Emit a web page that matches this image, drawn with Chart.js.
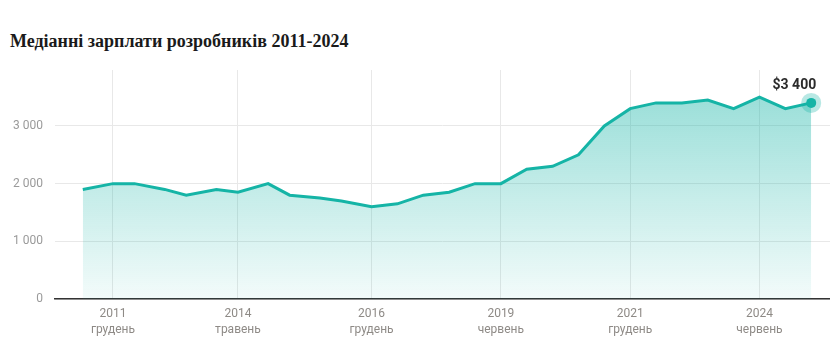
<!DOCTYPE html>
<html lang="uk">
<head>
<meta charset="utf-8">
<script src="https://cdn.jsdelivr.net/npm/chart.js@4/dist/chart.umd.min.js"></script>
<style>
  html, body { margin: 0; padding: 0; background: #fff; }
  #wrap { position: relative; width: 830px; height: 351px; }
  #title {
    position: absolute; left: 10px; top: 31px;
    font-family: "Liberation Serif", serif; font-weight: bold; font-size: 18px;
    color: #1a1a1a; white-space: nowrap;
  }
  canvas { position: absolute; left: 0; top: 0; }
</style>
</head>
<body>
<div id="wrap">
  <div id="title">Медіанні зарплати розробників 2011-2024</div>
  <canvas id="salaryChart" width="830" height="351"></canvas>
</div>
<script>
// survey dates (YYYY-MM) and median salary, USD
const surveyDates = [
  "2011-05", "2011-12", "2012-05", "2012-12", "2013-05", "2013-12",
  "2014-05", "2014-12", "2015-05", "2015-12", "2016-05", "2016-12",
  "2017-06", "2017-12", "2018-06", "2018-12", "2019-06", "2019-12",
  "2020-06", "2020-12", "2021-06", "2021-12", "2022-06", "2022-12",
  "2023-06", "2023-12", "2024-06", "2024-12", "2025-06"
];
const medianSalary = [
  1900, 2000, 2000, 1900, 1800, 1900,
  1850, 2000, 1800, 1750, 1700, 1600,
  1650, 1800, 1850, 2000, 2000, 2250,
  2300, 2500, 3000, 3300, 3400, 3400,
  3450, 3300, 3500, 3300, 3400
];

const xTickDates = ["2011-12", "2014-05", "2016-12", "2019-06", "2021-12", "2024-06"];
const xTickYears = ["2011", "2014", "2016", "2019", "2021", "2024"];
const xTickMonths = ["грудень", "травень", "грудень", "червень", "грудень", "червень"];
const yTickValues = [0, 1000, 2000, 3000];

const TEAL = "21, 180, 166";

function toYear(str) {
  const [y, m] = str.split("-").map(Number);
  return y + (m - 1) / 12;
}

function formatThousands(v) {
  return String(v).replace(/\B(?=(\d{3})+(?!\d))/g, " ");
}

const points = surveyDates.map((d, i) => ({ x: toYear(d), y: medianSalary[i] }));
const xTickValues = xTickDates.map(toYear);
const lastIndex = points.length - 1;

const lastPointLabel = {
  id: "lastPointLabel",
  afterDatasetsDraw(chart) {
    const meta = chart.getDatasetMeta(0);
    const pt = meta.data[lastIndex];
    if (!pt) return;
    const ctx = chart.ctx;
    ctx.save();
    ctx.beginPath();
    ctx.arc(pt.x, pt.y, 10, 0, Math.PI * 2);
    ctx.fillStyle = `rgba(${TEAL}, 0.3)`;
    ctx.fill();
    ctx.beginPath();
    ctx.arc(pt.x, pt.y, 5, 0, Math.PI * 2);
    ctx.fillStyle = `rgb(${TEAL})`;
    ctx.fill();
    ctx.font = "bold 14px Roboto";
    ctx.fillStyle = "#2b2b2b";
    ctx.textAlign = "right";
    ctx.textBaseline = "alphabetic";
    ctx.fillText("$" + formatThousands(medianSalary[lastIndex]), pt.x + 5, pt.y - 14);
    ctx.restore();
  }
};

new Chart(document.getElementById("salaryChart"), {
  type: "line",
  data: {
    datasets: [
      {
        data: points,
        borderColor: `rgb(${TEAL})`,
        borderWidth: 3,
        tension: 0,
        pointRadius: 0,
        fill: "origin",
        backgroundColor: (context) => {
          const area = context.chart.chartArea;
          if (!area) return `rgba(${TEAL}, 0.3)`;
          const g = context.chart.ctx.createLinearGradient(0, area.top, 0, area.bottom);
          g.addColorStop(0, `rgba(${TEAL}, 0.48)`);
          g.addColorStop(1, `rgba(${TEAL}, 0.05)`);
          return g;
        }
      }
    ]
  },
  options: {
    responsive: false,
    animation: false,
    layout: { padding: { top: 70, right: 0, left: 0, bottom: 0 } },
    plugins: {
      legend: { display: false },
      tooltip: { enabled: false }
    },
    scales: {
      x: {
        type: "linear",
        min: 2010.796,
        max: 2025.78,
        afterBuildTicks: (scale) => {
          scale.ticks = xTickValues.map((v) => ({ value: v }));
        },
        afterFit: (scale) => { scale.height = 52; },
        grid: { color: "#e8e8e8", drawTicks: false },
        border: { display: true, color: "#333", width: 1.5 },
        ticks: {
          autoSkip: false,
          maxRotation: 0,
          padding: 7,
          color: "#8e8a86",
          font: { family: "Roboto", size: 12, lineHeight: 1.35 },
          callback: (value, index) => [xTickYears[index], xTickMonths[index]]
        }
      },
      y: {
        min: 0,
        max: 3970,
        afterBuildTicks: (scale) => {
          scale.ticks = yTickValues.map((v) => ({ value: v }));
        },
        afterFit: (scale) => { scale.width = 55; },
        grid: { color: "#e8e8e8", drawTicks: false },
        border: { display: false },
        ticks: {
          padding: 12,
          color: "#9a9a9a",
          font: { family: "Roboto", size: 12 },
          callback: (value) => formatThousands(value)
        }
      }
    }
  },
  plugins: [lastPointLabel]
});
</script>
</body>
</html>
